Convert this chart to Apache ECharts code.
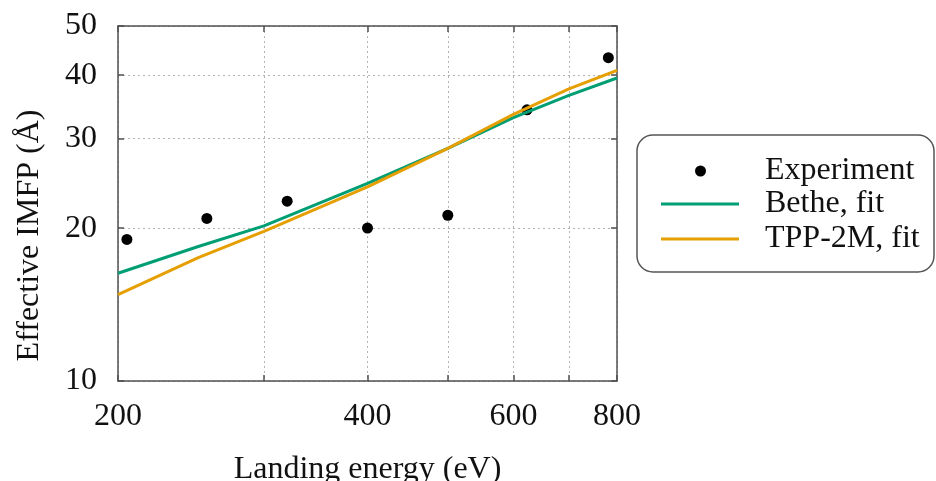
<!DOCTYPE html>
<html>
<head>
<meta charset="utf-8">
<script src="https://cdn.jsdelivr.net/npm/echarts@6/dist/echarts.min.js"></script>
<style>
html, body { margin: 0; padding: 0; background: #fff; }
#chart { width: 936px; height: 481px; }
</style>
</head>
<body>
<div id="chart"></div>
<script>
// axis ticks
var energyTicks = [200, 300, 400, 500, 600, 700, 800];
var energyLabels = [200, 400, 600, 800];
var imfpTicks = [10, 20, 30, 40, 50];

// measured points
var expEnergy = [205, 256, 320, 400, 500, 623, 781];
var expImfp = [19.0, 20.9, 22.6, 20.0, 21.2, 34.2, 43.3];

// fitted curves
var fitEnergy = [200, 250, 300, 400, 500, 600, 700, 800];
var betheFit = [16.3, 18.4, 20.2, 24.5, 28.7, 33.0, 36.5, 39.5];
var tppFit = [14.8, 17.5, 19.7, 24.1, 28.7, 33.5, 37.6, 40.9];

var font = 'Liberation Serif';
var frame = { color: '#505050', width: 1.5 };
var grid_line = { color: '#b4b4b4', width: 1, type: [2, 3] };

function pairs(xs, ys) {
    return xs.map(function (x, i) { return [x, ys[i]]; });
}

var myChart = echarts.init(document.getElementById('chart'));

var option = {
    animation: false,
    backgroundColor: '#fff',
    grid: { left: 118, top: 26, right: 319, bottom: 100, outerBoundsMode: 'none', containLabel: false },
    graphic: [{
        type: 'rect',
        shape: { x: 637, y: 135, width: 297, height: 137, r: 16 },
        style: { fill: null, stroke: '#555', lineWidth: 1.5 },
        silent: true
    }],
    legend: [
        {
            data: ['Experiment'],
            orient: 'vertical',
            left: 695, top: 155, padding: 0,
            itemWidth: 11, itemHeight: 11,
            icon: 'circle',
            textStyle: { fontFamily: font, fontSize: 32, color: '#111', lineHeight: 32, padding: [0, 0, 0, 54] }
        },
        {
            data: ['Bethe, fit', 'TPP-2M, fit'],
            orient: 'vertical',
            left: 661, top: 188, padding: 0,
            itemWidth: 78, itemHeight: 3, itemGap: 3,
            icon: 'rect',
            textStyle: { fontFamily: font, fontSize: 32, color: '#111', lineHeight: 32, padding: [0, 0, 0, 21] }
        }
    ],
    xAxis: [
        {
            type: 'log', min: 200, max: 800, position: 'bottom',
            name: 'Landing energy (eV)', nameLocation: 'middle', nameGap: 73,
            nameTextStyle: { fontFamily: font, fontSize: 32, color: '#111' },
            axisLine: { lineStyle: frame },
            axisTick: { inside: true, length: 6, customValues: energyTicks, lineStyle: frame },
            axisLabel: { customValues: energyLabels, margin: 20, fontFamily: font, fontSize: 32, color: '#111' },
            splitLine: { show: true, lineStyle: grid_line }
        },
        {
            type: 'log', min: 200, max: 800, position: 'top',
            axisLine: { lineStyle: frame },
            axisTick: { inside: true, length: 6, customValues: energyTicks, lineStyle: frame },
            axisLabel: { show: false },
            splitLine: { show: false }
        }
    ],
    yAxis: [
        {
            type: 'log', min: 10, max: 50, position: 'left',
            name: 'Effective IMFP (Å)', nameLocation: 'middle', nameGap: 72,
            nameTextStyle: { fontFamily: font, fontSize: 32, color: '#111', padding: [0, 64, 0, 0] },
            axisLine: { lineStyle: frame },
            axisTick: { inside: true, length: 6, customValues: imfpTicks, lineStyle: frame },
            axisLabel: { customValues: imfpTicks, margin: 21, fontFamily: font, fontSize: 32, color: '#111' },
            splitLine: { show: true, lineStyle: grid_line }
        },
        {
            type: 'log', min: 10, max: 50, position: 'right',
            axisLine: { lineStyle: frame },
            axisTick: { inside: true, length: 6, customValues: imfpTicks, lineStyle: frame },
            axisLabel: { show: false },
            splitLine: { show: false }
        }
    ],
    series: [
        {
            name: 'Experiment',
            type: 'scatter',
            data: pairs(expEnergy, expImfp),
            symbolSize: 11,
            itemStyle: { color: '#000', opacity: 1 },
            z: 2
        },
        {
            name: 'Bethe, fit',
            type: 'line',
            data: pairs(fitEnergy, betheFit),
            symbol: 'none',
            lineStyle: { color: '#009e73', width: 3 },
            itemStyle: { color: '#009e73' },
            z: 3
        },
        {
            name: 'TPP-2M, fit',
            type: 'line',
            data: pairs(fitEnergy, tppFit),
            symbol: 'none',
            lineStyle: { color: '#e69f00', width: 3 },
            itemStyle: { color: '#e69f00' },
            z: 3
        }
    ]
};

myChart.setOption(option);
</script>
</body>
</html>
